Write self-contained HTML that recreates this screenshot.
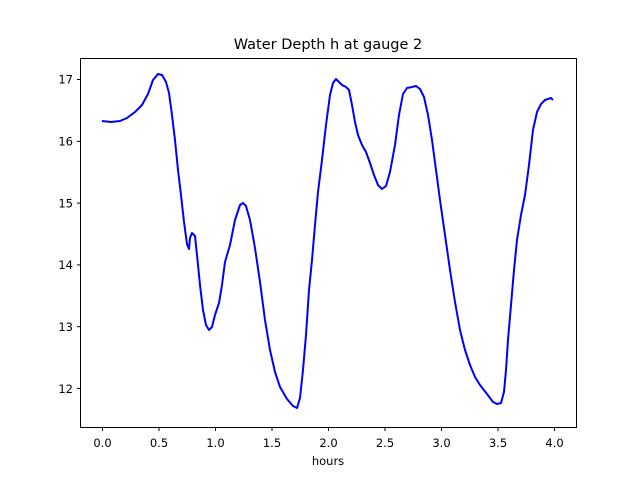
<!DOCTYPE html>
<html><head><style>body{margin:0;background:#fff}svg{display:block;font-family:"DejaVu Sans","Liberation Sans",sans-serif}</style></head>
<body>
<svg width="640" height="480" viewBox="0 0 640 480">
<rect width="640" height="480" fill="#fff"/>
<text x="328" y="49" font-size="14.5" text-anchor="middle">Water Depth h at gauge 2</text>
<polyline fill="none" stroke="#0000ff" stroke-width="2" stroke-linejoin="round" points="102,121 111,122 120,121 127,118 135,112 142,105 148,94 153,80 158,74 162,75 166,82 169,93 172,115 175,140 178,170 181,195 184,222 187,244 189,249 190,238 192,233 195,236 197,255 200,285 203,310 206,325 209,330 212,327 215,315 219,303 222,285 225,262 230,245 235,220 240,205 243,203 246,206 250,220 255,248 260,282 265,320 270,350 275,372 280,387 287,399 293,406 297,408 300,398 303,370 306,335 309,290 312,260 315,225 318,192 322,160 326,125 330,95 333,83 336,79 339,82 342,85 346,87 349,90 352,105 355,122 358,135 362,145 366,152 370,163 374,175 378,185 382,189 386,186 390,172 395,145 399,115 403,94 407,88 412,87 416,86 420,89 424,97 428,115 432,140 436,170 440,200 445,235 450,270 455,302 460,330 465,350 470,365 475,377 480,385 487,394 493,402 497,404 501,403 504,392 506,370 508,340 511,305 514,270 517,240 521,215 525,195 529,165 533,130 537,112 541,104 545,100 548,99 551,98 553,100"/>
<rect x="80.5" y="58.5" width="496" height="369" fill="none" stroke="#000" stroke-width="1"/>
<g stroke="#000" stroke-width="1">
<line x1="102.5" y1="428" x2="102.5" y2="431"/><line x1="159" y1="428" x2="159" y2="431"/><line x1="215.5" y1="428" x2="215.5" y2="431"/><line x1="272" y1="428" x2="272" y2="431"/><line x1="328.5" y1="428" x2="328.5" y2="431"/><line x1="385" y1="428" x2="385" y2="431"/><line x1="441.5" y1="428" x2="441.5" y2="431"/><line x1="498" y1="428" x2="498" y2="431"/><line x1="554.5" y1="428" x2="554.5" y2="431"/>
<line x1="77" y1="79.5" x2="80" y2="79.5"/><line x1="77" y1="141.3" x2="80" y2="141.3"/><line x1="77" y1="203.1" x2="80" y2="203.1"/><line x1="77" y1="264.9" x2="80" y2="264.9"/><line x1="77" y1="326.7" x2="80" y2="326.7"/><line x1="77" y1="388.5" x2="80" y2="388.5"/>
</g>
<g font-size="11.5" text-anchor="middle">
<text x="102.5" y="447">0.0</text><text x="159" y="447">0.5</text><text x="215.5" y="447">1.0</text><text x="272" y="447">1.5</text><text x="328.5" y="447">2.0</text><text x="385" y="447">2.5</text><text x="441.5" y="447">3.0</text><text x="498" y="447">3.5</text><text x="554.5" y="447">4.0</text>
<text x="328" y="465">hours</text>
</g>
<g font-size="11.5" text-anchor="end">
<text x="73" y="83.5">17</text><text x="73" y="145.5">16</text><text x="73" y="207.5">15</text><text x="73" y="269">14</text><text x="73" y="331">13</text><text x="73" y="393">12</text>
</g>
</svg>
</body></html>
